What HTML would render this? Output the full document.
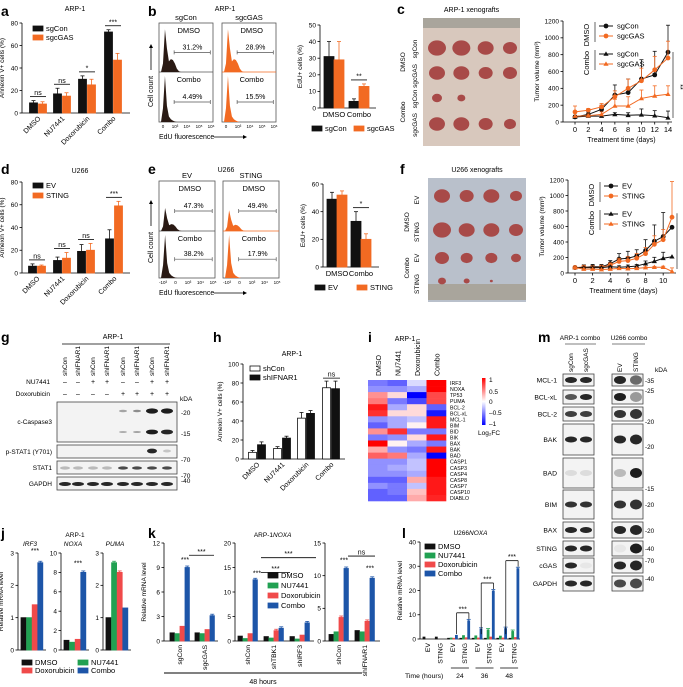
<!DOCTYPE html>
<html><head><meta charset="utf-8">
<style>
html,body{margin:0;padding:0;background:#fff;}
svg{display:block;font-family:"Liberation Sans",Arial,sans-serif;}
</style></head>
<body>
<svg id="fig" width="683" height="687" viewBox="0 0 683 687" xmlns="http://www.w3.org/2000/svg">
<g font-weight="bold" font-size="14" fill="#000">
<text x="1" y="16">a</text>
<text x="148" y="16">b</text>
<text x="397" y="14">c</text>
<text x="1" y="174">d</text>
<text x="148" y="174">e</text>
<text x="400" y="174">f</text>
<text x="1" y="342">g</text>
<text x="213" y="342">h</text>
<text x="368" y="342">i</text>
<text x="538" y="342">m</text>
<text x="1" y="538">j</text>
<text x="148" y="538">k</text>
<text x="402" y="538">l</text>
</g>
</svg>
<script>
// ---------------- DATA ----------------
const aCats=['DMSO','NU7441','Doxorubicin','Combo'];
const aSgCon=[9,17,30,72]; const aSgConErr=[2,5,3,2];
const aSgGAS=[8,15,25,47]; const aSgGASErr=[2,3,5,6];
const aTicks=[0,20,40,60,80];
const aSig=['ns','ns','*','***'];

const dEV=[6,11,19,30]; const dEVErr=[2,3,6,8];
const dSTING=[6,13,20,59]; const dSTINGErr=[1,5,6,4];
const dSig=['ns','ns','ns','***'];

const bCats=['DMSO','Combo'];
const bSgCon=[31,4]; const bSgConErr=[9,1.5];
const bSgGAS=[29,13]; const bSgGASErr=[11,1.5];
const bTicks=[0,10,20,30,40,50];
const bPct=['31.2%','28.9%','4.49%','15.5%'];

const eEV=[49,33]; const eEVErr=[5,7];
const eSTING=[52,20]; const eSTINGErr=[3,4];
const eTicks=[0,20,40,60];
const ePct=['47.3%','49.4%','38.2%','17.9%'];

const cDays=[0,2,4,6,8,10,12,14];
const cDmsoCon=[60,90,150,320,350,510,560,830];
const cDmsoGAS=[120,140,180,300,400,490,620,760];
const cComboCon=[60,70,70,90,80,85,75,50];
const cComboGAS=[70,75,90,190,190,280,310,330];
const cErrDC=[20,30,50,120,160,230,280,320];
const cErrDG=[70,20,40,70,110,150,160,200];
const cErrCC=[10,10,10,20,30,70,60,80];
const cErrCG=[50,20,30,80,110,100,120,100];
const cYTicks=[0,200,400,600,800,1000,1200];

const fDays=[0,1,2,3,4,5,6,7,8,9,10,11];
const fDmsoEV=[70,75,80,80,120,180,190,220,290,410,470,590];
const fDmsoST=[70,75,70,75,100,150,160,190,250,370,430,720];
const fComboEV=[70,70,70,70,80,75,80,90,120,150,190,210];
const fComboST=[70,50,50,45,50,60,55,60,70,75,75,20];
const fErr1=[20,30,30,30,40,70,90,80,140,210,310,0];
const fErr2=[20,20,20,20,30,40,50,60,80,110,130,460];
const fYTicks=[0,200,400,600,800,1000,1200];
const fXTicks=[0,2,4,6,8,10];

const hShCon=[7,11,43,75]; const hShConErr=[2,2,6,7];
const hShIF=[15,22,48,74]; const hShIFErr=[3,2,3,8];
const hTicks=[0,20,40,60,80,100];

const iRows=['IRF3','NOXA','TP53','PUMA','BCL-2','BCL-xL','MCL-1','BIM','BID','BIK','BAX','BAK','BAD','CASP1','CASP3','CASP4','CASP8','CASP7','CASP10','DIABLO'];
const iCols=['DMSO','NU7441','Doxorubicin','Combo'];
const iDMSO=[-0.5,-0.4,0.4,0.5,0.9,0.8,-0.4,-0.6,0.4,-0.5,1,0.3,0.6,-0.4,-0.4,-0.4,-0.6,-0.4,-0.6,-0.6];
const iNU=[-0.6,-0.4,0.1,-0.5,-0.3,0.1,-0.3,-0.3,0.8,-0.4,0,-0.4,0.5,-0.4,-0.3,-0.4,-0.6,-0.5,-0.5,-0.6];
const iDox=[-0.1,-0.3,-1,-0.7,0.1,0.1,-0.2,0,-0.5,0.1,-0.3,-0.5,-0.3,-0.2,-0.2,-0.3,0.3,-0.2,0.2,0.3];
const iCombo=[1,1,0.7,0.7,-0.6,-0.9,0.9,0.9,-0.5,0.9,-0.5,0.9,-1,1,1,1,0.9,0.9,0.9,0.85];

const jGenes=['IRF3','NOXA','PUMA'];
const jMax=[3,10,3];
const jDMSO=[1,1,1]; const jNU=[1,0.8,2.7]; const jDox=[1.4,1.1,2.4]; const jCombo=[2.7,8,1.3];

const kGroups1=['sgCon','sgcGAS']; const k1DMSO=[1,1]; const k1NU=[0.9,0.9]; const k1Dox=[1.8,1.4]; const k1Combo=[9,3.1];
const kGroups2=['shCon','shTBK1','shIRF3']; const k2DMSO=[1,0.9,0.9]; const k2NU=[0.5,0.6,0.4]; const k2Dox=[1.5,2.1,1.2]; const k2Combo=[12.5,2.6,3.7];
const kGroups3=['shCon','shIFNAR1']; const k3DMSO=[1,1.6]; const k3NU=[1.4,1.4]; const k3Dox=[3.6,3]; const k3Combo=[11.1,9.6];

const lGroups=['EV','STING','EV','STING','EV','STING','EV','STING'];
const lDMSO=[0.8,0.8,0.3,0.3,0.3,0.3,0.3,0.3];
const lNU=[0,0,0.4,1.4,1.3,3.7,1.2,3.1];
const lDox=[0,0,0.3,0.5,0.4,0.8,0.4,0.6];
const lCombo=[0,0,1.5,7.5,4,19.8,4.3,29];
const lTicks=[0,10,20,30,40];

// ---------------- HELPERS ----------------
const NS='http://www.w3.org/2000/svg';
const svg=document.getElementById('fig');
const ORANGE='#f26a22', BLACK='#111', GREEN='#21a152', RED='#f04a4a', BLUE='#1d55a8';
function mk(tag,at,par){const e=document.createElementNS(NS,tag);for(const k in at)e.setAttribute(k,at[k]);(par||svg).appendChild(e);return e;}
function txt(x,y,s,sz,anchor,par,rot,color){const t=mk('text',{x:x,y:y,'font-size':sz||7,'text-anchor':anchor||'start',fill:color||'#000'},par);if(rot)t.setAttribute('transform','rotate('+rot+' '+x+' '+y+')');t.textContent=s;return t;}
function line(x1,y1,x2,y2,par,w,c){return mk('line',{x1:x1,y1:y1,x2:x2,y2:y2,stroke:c||'#000','stroke-width':w||0.8},par);}
function lin(v,d0,d1,p0,p1){return p0+(v-d0)/(d1-d0)*(p1-p0);}

function yAxis(g,ax,y0,yT,max,ticks,title,labelFmt){
  const a=line(ax,y0,ax,yT,g);
  
  
  ticks.forEach(t=>{const y=lin(t,0,max,y0,yT);line(ax-2.5,y,ax,y,g);const tl=txt(ax-4,y+2.3,labelFmt?labelFmt(t):String(t),6.5,'end',g);
    
    });
  if(title){const tt=txt(ax-18-(String(max).length-2)*3,(y0+yT)/2,title,6.5,'middle',g,-90);
    
    }
}
function bar(g,x,w,y0,y,fill,stroke,err,yScale){
  if(err){const ye=y-err*yScale;line(x+w/2,y,x+w/2,ye,g,0.8,stroke);line(x+w/2-2,ye,x+w/2+2,ye,g,0.8,stroke);}
  const r=mk('rect',{x:x,y:Math.min(y,y0),width:w,height:Math.abs(y0-y),fill:fill,stroke:stroke,'stroke-width':0.8},g);
  
  
  return r;
}
function sig(g,x1,x2,y,s){line(x1,y,x2,y,g);const t=txt((x1+x2)/2,y-1.5,s,7,'middle',g);
  
  }

function annexin(name,ax,y0,yT,max,ticks,cats,centers,s1,e1,s2,e2,c1,c2,sigs,axEnd,rot,title){
  const g=mk('g',{});  
  yAxis(g,ax,y0,yT,max,ticks,title);
  line(ax,y0,axEnd,y0,g);
  const sc=(y0-yT)/max, w=8;
  cats.forEach((c,i)=>{
    const cx=centers[i];
    bar(g,cx-w-0.5,w,y0,lin(s1[i],0,max,y0,yT),c1[0],c1[1],e1[i],sc);
    bar(g,cx+0.5,w,y0,lin(s2[i],0,max,y0,yT),c2[0],c2[1],e2[i],sc);
    if(sigs){const top=Math.max(s1[i]+e1[i],s2[i]+e2[i]);sig(g,cx-w,cx+w,lin(top,0,max,y0,yT)-4,sigs[i]);}
    const tl=txt(cx+3,y0+6,c,7,'end',g,rot||-45);
    
    
  });
  return g;
}
function legendEntry(g,x,y,label,fill,stroke){const r=mk('rect',{x:x,y:y-4,width:10,height:5,fill:fill,stroke:stroke||fill,'stroke-width':0.8},g);
  
  
  const t=txt(x+13,y+1,label,7.5,'start',g);
  
  }

// ---------------- PANEL A ----------------
txt(75,11,'ARP-1',7,'middle');
const gA=annexin('annexin-chart-a',22,113,23,80,aTicks,aCats,[38,62,87,113],aSgCon,aSgConErr,aSgGAS,aSgGASErr,[BLACK,BLACK],[ORANGE,ORANGE],aSig,130,-45,'Annexin V+ cells (%)');
legendEntry(gA,33,30,'sgCon',BLACK); legendEntry(gA,33,39,'sgcGAS',ORANGE);

// ---------------- PANEL D ----------------
txt(80,173,'U266',7,'middle');
const gD=annexin('annexin-chart-d',22,273,182,80,aTicks,aCats,[37,62,86,114],dEV,dEVErr,dSTING,dSTINGErr,[BLACK,BLACK],[ORANGE,ORANGE],dSig,130,-45,'Annexin V+ cells (%)');
legendEntry(gD,33,187,'EV',BLACK); legendEntry(gD,33,197,'STING',ORANGE);

// ---------------- FLOW HISTOGRAMS ----------------
const histMain=[0,0.2,1,0.55,0.25,0.3,0.28,0.2,0.08,0.02,0,0,0,0,0];
const histCombo=[0,0.3,1,0.35,0.12,0.06,0.03,0.01,0,0,0,0,0,0,0];
function flow(name,x,y,w,h,div,color,pcts,titles,cond,scaleMain,scaleCombo,xlab){
  const g=mk('g',{});  
  for(let k=0;k<2;k++){
    const bx=x[k];
    const box=mk('rect',{x:bx,y:y,width:w,height:h,fill:'none',stroke:'#555','stroke-width':0.8},g);
    
    
    line(bx,div,bx+w,div,g,0.8,k==1?ORANGE:'#555');
    [[y,div,histMain,scaleMain[k]],[div,y+h,histCombo,scaleCombo[k]]].forEach((p,j)=>{
      const top=p[0],bot=p[1],hist=p[2],sc=p[3];
      let d='M'+(bx+2)+','+bot;
      hist.forEach((v,i)=>{d+=' L'+(bx+2+i*(w*0.55)/hist.length)+','+(bot-v*(bot-top-4)*sc);});
      d+=' L'+(bx+w*0.6)+','+bot+'Z';
      const pth=mk('path',{d:d,fill:k==0?'#2a1a14':ORANGE},g);
      
      
      const gy=top+(bot-top)*0.6;
      line(bx+w*0.28,gy,bx+w*0.95,gy,g,0.7,'#555');line(bx+w*0.28,gy-2,bx+w*0.28,gy+2,g,0.7,'#555');line(bx+w*0.95,gy-2,bx+w*0.95,gy+2,g,0.7,'#555');
      const pt=txt(bx+w*0.62,gy-3,pcts[j*2+k],7,'middle',g);
      
      
      txt(bx+w*0.55,top+10,cond[j],7.5,'middle',g);
    });
    txt(bx+w/2,y-3,titles[k],7.5,'middle',g);
    xlab.forEach((s,i)=>txt(bx+4+i*(w-6)/(xlab.length-1),y+h+6,s,4.5,'middle',g));
  }
  txt(x[0],y+h+17,'EdU fluorescence',7,'start',g);
  line(x[0]+55,y+h+15,x[0]+85,y+h+15,g,0.8);
  mk('path',{d:'M'+(x[0]+88)+','+(y+h+15)+' l-4,-2 v4z'},g);
  txt(x[0]-6,y+h-15,'Cell count',7,'start',g,-90);
  line(x[0]-8,y+h-52,x[0]-8,y+h-75,g,0.8);
  mk('path',{d:'M'+(x[0]-8)+','+(y+h-78)+' l-2,4 h4z'},g);
}
txt(225,11,'ARP-1',7,'middle');
flow('flow-histograms-b',[159,222],23,54,99,72,1,bPct,['sgCon','sgcGAS'],['DMSO','Combo'],[0.95,0.95],[1,1],['0','10³','10⁴','10⁵','10⁶']);
txt(226,172,'U266',7,'middle');
flow('flow-histograms-e',[159,223],181,56,97,231,1,ePct,['EV','STING'],['DMSO','Combo'],[0.5,0.45],[1,1],['-10³','0','10³','10⁴','10⁵']);

// ---------------- EdU bar charts ----------------
function edu(name,ax,y0,yT,max,ticks,centers,s1,e1,s2,e2,c2,sigTxt,leg){
  const g=mk('g',{});  
  yAxis(g,ax,y0,yT,max,ticks,'EdU+ cells (%)');
  line(ax,y0,ax+56,y0,g);
  const sc=(y0-yT)/max,w=10;
  bCats.forEach((c,i)=>{const cx=centers[i];
    bar(g,cx-w,w,y0,lin(s1[i],0,max,y0,yT),BLACK,BLACK,e1[i],sc);
    bar(g,cx,w,y0,lin(s2[i],0,max,y0,yT),c2,c2,e2[i],sc);
    const tl=txt(cx,y0+9,c,7.5,'middle',g);
    
    });
  const top=Math.max(s1[1]+e1[1],s2[1]+e2[1]);
  sig(g,centers[1]-8,centers[1]+8,lin(top,0,max,y0,yT)-4,sigTxt);
  legendEntry(g,ax-8,y0+22,leg[0],BLACK); legendEntry(g,ax+34,y0+22,leg[1],ORANGE);
}
edu('edu-chart-b',320,108,25,50,bTicks,[334,359],bSgCon,bSgConErr,bSgGAS,bSgGASErr,ORANGE,'**',['sgCon','sgcGAS']);
edu('edu-chart-e',323,267,184,60,eTicks,[337,361],eEV,eEVErr,eSTING,eSTINGErr,ORANGE,'*',['EV','STING']);

// ---------------- XENOGRAFT PHOTOS ----------------
function photo(name,x,y,w,h,bg,rulerY,rulerH,rows,sizes,title,labels){
  const g=mk('g',{});  
  txt(x+w/2,y-6,title,7,'middle',g);
  mk('rect',{x:x,y:y,width:w,height:h,fill:bg},g);
  mk('rect',{x:x,y:rulerY,width:w,height:rulerH,fill:'#a9a59c'},g);
  rows.forEach((ry,ri)=>{[0,1,2,3].forEach(ci=>{const s=sizes[ri][ci];if(s>0){const e=mk('ellipse',{cx:x+14+ci*(w-24)/3,cy:ry,rx:s,ry:s*0.85,fill:'#a84a48'},g);
    
    }});});
  labels.forEach(l=>txt(l[0],l[1],l[2],6.5,'middle',g,-90));
  return g;
}
photo('xenograft-photo-c',423,18,97,128,'#d8c8bd',18,10,[48,73,98,124],[[9,9,8,7],[8,8,7,7],[5,4,0,0],[8,8,7,6]],'ARP-1 xenografts',[[405,62,'DMSO'],[405,112,'Combo'],[417,49,'sgCon'],[417,76,'sgcGAS'],[417,99,'sgCon'],[417,125,'sgcGAS']]);
photo('xenograft-photo-f',428,178,98,124,'#b9c0cb',284,16,[196,230,258,281],[[8,7,8,6],[9,8,8,7],[7,6,6,5],[4,3,1.5,0]],'U266 xenografts',[[409,222,'DMSO'],[409,268,'Combo'],[419,200,'EV'],[419,232,'STING'],[419,258,'EV'],[419,284,'STING']]);

// ---------------- LINE CHARTS ----------------
function growth(name,ax,x0,x1,xmax,y0,yT,days,series,errs,xTicks,legY,legLabels,sigTxt){
  const g=mk('g',{});  
  yAxis(g,ax,y0,yT,1200,cYTicks,'Tumor volume (mm³)');
  line(ax,y0,x1+4,y0,g);
  xTicks.forEach(d=>{const x=lin(d,0,xmax,x0,x1);line(x,y0,x,y0+2.5,g);const t=txt(x,y0+10,String(d),7.5,'middle',g);
    
    });
  const tt=txt((x0+x1)/2,y0+20,'Treatment time (days)',7,'middle',g);
  
  
  const cols=[BLACK,ORANGE,BLACK,ORANGE];
  series.forEach((s,si)=>{
    let d='';
    s.forEach((v,i)=>{const X=lin(days[i],0,xmax,x0,x1),Y=lin(v,0,1200,y0,yT);d+=(i?' L':'M')+X+','+Y;
      const e=errs[si]?errs[si][i]:0; if(e){line(X,Y,X,Y-e*(y0-yT)/1200,g,0.8,cols[si]);line(X-2,Y-e*(y0-yT)/1200,X+2,Y-e*(y0-yT)/1200,g,0.8,cols[si]);}});
    const p=mk('path',{d:d,fill:'none',stroke:cols[si],'stroke-width':1},g);
    
    
    s.forEach((v,i)=>{const X=lin(days[i],0,xmax,x0,x1),Y=lin(v,0,1200,y0,yT);let m;
      if(si<2)m=mk('circle',{cx:X,cy:Y,r:2.4,fill:cols[si]},g);
      else m=mk('path',{d:'M'+X+','+(Y-2.6)+' l2.6,4.4 h-5.2z',fill:cols[si]},g);
      
      });
  });
  const lx=ax+34;
  [[0,'DMSO'],[1,'Combo']].forEach(([k,lab])=>{
    const yy=legY+k*28;
    txt(lx-8,yy+9,lab,7.5,'middle',g,-90);
    line(lx-2,yy-4,lx-2,yy+16,g,0.6);
    for(let q=0;q<2;q++){const si=k*2+q,Y=yy+q*10;line(lx+2,Y,lx+16,Y,g,1,cols[si]);
      let m; if(si<2)m=mk('circle',{cx:lx+9,cy:Y,r:2.4,fill:cols[si]},g);else m=mk('path',{d:'M'+(lx+9)+','+(Y-2.6)+' l2.6,4.4 h-5.2z',fill:cols[si]},g);
      
      
      const t=txt(lx+20,Y+2.5,legLabels[si],7.5,'start',g);
      
      }
  });
  const yA=lin(series[1][series[1].length-1],0,1200,y0,yT)+(sigTxt=='**'?-6:-4);
  line(x1+5,yA,x1+5,y0-4,g,0.6); txt(x1+10,(yA+y0)/2,sigTxt,7,'middle',g,90);
}
growth('tumor-growth-chart-c',563,575,668,14,122,21,cDays,[cDmsoCon,cDmsoGAS,cComboCon,cComboGAS],[cErrDC,cErrDG,cErrCC,cErrCG],cDays,26,['sgCon','sgcGAS','sgCon','sgcGAS'],'**');
growth('tumor-growth-chart-f',568,575,672,11,273,180,fDays,[fDmsoEV,fDmsoST,fComboEV,fComboST],[fErr1,fErr2,fErr1.map(v=>v*0.25),fErr2.map(v=>v*0.1)],fXTicks,186,['EV','STING','EV','STING'],'*');

// ---------------- PANEL G (blots) ----------------
const gLanes=['shCon','shIFNAR1','shCon','shIFNAR1','shCon','shIFNAR1','shCon','shIFNAR1'];
const gNU=['–','–','+','+','–','–','+','+'];
const gDox=['–','–','–','–','+','+','+','+'];
function blot(g,x,y,w,h,bands,name){
  const r=mk('rect',{x:x,y:y,width:w,height:h,fill:'#f3f3f3',stroke:'#444','stroke-width':0.8},g);
  
  
  bands.forEach(b=>{const e=mk('ellipse',{cx:b[0],cy:b[1],rx:b[2],ry:b[3],fill:'#111','fill-opacity':b[4]},g);
    
    });
}
{
  const g=mk('g',{});  
  const lx=[65,78,93,107,123,137,152,167];
  txt(113,339,'ARP-1',7,'middle',g); line(62,344,170,344,g,0.7);
  gLanes.forEach((l,i)=>{txt(lx[i]+2,376,l,6.5,'start',g,-90);txt(lx[i],384,gNU[i],7,'middle',g);txt(lx[i],396,gDox[i],7,'middle',g);});
  txt(50,384,'NU7441',6.5,'end',g); txt(50,396,'Doxorubicin',6.5,'end',g); txt(180,401,'kDA',6.5,'start',g);
  blot(g,57,402,120,40,[[123,411,4,1.2,0.35],[137,411,4,1.2,0.45],[152,411,6,2.6,0.95],[167,411,6,2.6,0.95],[123,432,4,1,0.3],[137,432,4,1,0.35],[152,432,6,2.4,0.95],[167,432,6,2.4,0.9]],'c-caspase3-blot');
  blot(g,57,445,120,13,[[152,451,5,2.4,0.9],[167,451,4,1.5,0.2]],'p-stat1-blot');
  blot(g,57,461,120,13,lx.map((x,i)=>[x,468,5,1.6,i<4?0.25:0.75]),'stat1-blot');
  blot(g,57,477,120,13,lx.map(x=>[x,484,6,2,0.9]),'gapdh-blot');
  txt(52,424,'c-Caspase3',6.5,'end',g); txt(52,454,'p-STAT1 (Y701)',6.5,'end',g); txt(52,470,'STAT1',6.5,'end',g); txt(52,486,'GAPDH',6.5,'end',g);
  [['-20',413],['-15',434],['-70',460],['-70',476],['-40',481]].forEach(m=>txt(181,m[1]+2,m[0],6.5,'start',g));
}

// ---------------- PANEL H ----------------
txt(292,356,'ARP-1',7,'middle');
const gH=annexin('annexin-chart-h',243,459,364,100,hTicks,aCats,[257,282,306,331],hShCon,hShConErr,hShIF,hShIFErr,['#fff',BLACK],[BLACK,BLACK],null,345,-45,'Annexin V+ cells (%)');
legendEntry(gH,250,370,'shCon','#fff',BLACK); legendEntry(gH,250,379,'shIFNAR1',BLACK);
sig(gH,323,340,lin(82,0,100,459,364)-3,'ns');

// ---------------- PANEL I heatmap ----------------
{
  const g=mk('g',{});  
  txt(405,341,'ARP-1',7,'middle',g);
  const hx=368,hy=380,cw=19.5,rh=(501-380)/iRows.length;
  const cols=[iDMSO,iNU,iDox,iCombo];
  function col(v){v=Math.max(-1,Math.min(1,v));let r,gg,b;if(v>=0){r=255;gg=Math.round(255*(1-v)*0.95);b=gg;}else{b=255;r=Math.round(255*(1+v)*0.95);gg=r;}return 'rgb('+r+','+gg+','+b+')';}
  cols.forEach((arr,ci)=>{
    const t=txt(hx+ci*cw+cw/2+3,hy-4,iCols[ci],7,'start',g,-90);
    
    
    arr.forEach((v,ri)=>{const r=mk('rect',{x:hx+ci*cw,y:hy+ri*rh,width:cw+0.3,height:rh+0.3,fill:col(v)},g);
      
      });
  });
  iRows.forEach((n,ri)=>{const t=txt(hx+4*cw+4,hy+ri*rh+rh-1,n,5.2,'start',g);
    
    });
  const defs=mk('defs',{},g);const lg=mk('linearGradient',{id:'cb',x1:0,y1:0,x2:0,y2:1},defs);
  mk('stop',{offset:'0','stop-color':'#ff0000'},lg);mk('stop',{offset:'0.5','stop-color':'#ffffff'},lg);mk('stop',{offset:'1','stop-color':'#0000ff'},lg);
  const cb=mk('rect',{x:482,y:378,width:3.5,height:47,fill:'url(#cb)'},g);
  
  
  [['1',380],['0.5',392],['0',402],['–0.5',413],['–1',424]].forEach(m=>txt(489,m[1]+2,m[0],6.5,'start',g));
  txt(478,435,'Log₂FC',6.5,'start',g);
}

// ---------------- PANEL M blots ----------------
{
  const g=mk('g',{});  
  txt(580,340,'ARP-1 combo',6.5,'middle',g); txt(629,340,'U266 combo',6.5,'middle',g);
  line(565,344,596,344,g,0.6); line(612,344,645,344,g,0.6);
  [['sgCon',571],['sgcGAS',586],['EV',620],['STING',636]].forEach(l=>txt(l[1]+2,372,l[0],6.5,'start',g,-90));
  txt(655,372,'kDA',6.5,'start',g);
  const rows=[['MCL-1',374,386,[0.9,0.9],[0.9,0.6]],['BCL-xL',390,404,[0.7,0.9],[0.95,0.4]],['BCL-2',407,421,[0.8,0.8],[0.85,0.85]],['BAK',424,455,[0.9,0.9],[0.9,0.9]],['BAD',458,488,[0.1,0.1],[0.25,0.95]],['BIM',490,519,[0.85,0.85],[0.85,0.85]],['BAX',522,538,[0.9,0.9],[0.9,0.9]],['STING',541,556,[0.9,0.9],[0.05,0.95]],['cGAS',558,573,[0.9,0.05],[0.9,0.9]],['GAPDH',576,591,[0.9,0.9],[0.75,0.75]]];
  rows.forEach(r=>{
    const ys=(r[1]+r[2])/2,hh=r[2]-r[1];
    blot(g,563,r[1],31,hh,[[571,ys,6,Math.min(hh/3,3),r[3][0]],[586,ys,6,Math.min(hh/3,3),r[3][1]]],'blot-'+r[0].toLowerCase());
    blot(g,612,r[1],31,hh,[[620,ys,6,Math.min(hh/3,4),r[4][0]],[636,ys,6,Math.min(hh/2.5,5),r[4][1]]],'blot-u266-'+r[0].toLowerCase());
    txt(557,ys+2.5,r[0],6.8,'end',g);
  });
  [['-35',381],['-25',391],['-20',422],['-20',447],['-15',489],['-20',505],['-20',531],['-40',549],['-70',561],['-40',579]].forEach(m=>txt(645,m[1]+2,m[0],6.3,'start',g));
}

// ---------------- QPCR bars (j,k,l) ----------------
const QC=[BLACK,GREEN,RED,BLUE];
function qpcr(name,ax,y0,yT,max,ticks,groups,series,x0,gw,bw,title,rotLabels,axEnd){
  const g=mk('g',{});  
  yAxis(g,ax,y0,yT,max,ticks,title);
  line(ax,y0,axEnd,y0,g);
  groups.forEach((gr,gi)=>{
    series.forEach((s,si)=>{const v=s[gi];if(v<=0)return;const y=lin(v,0,max,y0,yT);
      bar(g,x0+gi*gw+si*bw,bw-0.6,y0,y,QC[si],QC[si],v>2?max*0.015:0,(y0-yT)/max);});
    if(rotLabels){const t=txt(x0+gi*gw+2*bw+2,y0+4,gr,6.8,'end',g);
      t.setAttribute('transform','rotate(-90 '+(x0+gi*gw+2*bw+2)+' '+(y0+4)+')');
      
      }
  });
  return g;
}
// j
txt(75,537,'ARP-1',6.5,'middle');
[0,1,2].forEach(i=>{
  const ax=[18,61,103][i];
  const gj=qpcr('qpcr-chart-j-'+jGenes[i].toLowerCase(),ax,650,553,jMax[i],jMax[i]==3?[0,1,2,3]:[0,2,4,6,8,10],[jGenes[i]],[[jDMSO[i]],[jNU[i]],[jDox[i]],[jCombo[i]]],ax+3,0,5.6,i==0?'Relative mRNA level':null,0,ax+28);
  const t=txt(ax+12,546,jGenes[i],6.5,'middle',gj); t.setAttribute('font-style','italic');
});
[[35,lin(2.9,0,3,650,553)],[78,lin(8.4,0,10,650,553)]].forEach(p=>txt(p[0],p[1]-3,'***',7,'middle'));
{const g=mk('g',{});
 legendEntry(g,22,664,'DMSO',BLACK);legendEntry(g,22,672,'Doxorubicin',RED);legendEntry(g,78,664,'NU7441',GREEN);legendEntry(g,78,672,'Combo',BLUE);}

// k
txt(273,537,'ARP-1 ',6.5,'end'); {const t=txt(273,537,'NOXA',6.5,'start');t.setAttribute('font-style','italic');}
qpcr('qpcr-chart-k1',164,641,543,12,[0,3,6,9,12],kGroups1,[k1DMSO,k1NU,k1Dox,k1Combo],170,25,5,'Relative mRNA level',90,218);
qpcr('qpcr-chart-k2',235,641,543,20,[0,5,10,15,20],kGroups2,[k2DMSO,k2NU,k2Dox,k2Combo],238,26,5,null,90,314);
qpcr('qpcr-chart-k3',325,641,543,15,[0,5,10,15],kGroups3,[k3DMSO,k3NU,k3Dox,k3Combo],329,26,5,null,90,380);
txt(185,lin(9.4,0,12,641,543)-2,'***',7,'middle'); sig(null,189,214,lin(10.5,0,12,641,543),'***');
txt(257,lin(13,0,20,641,543)-2,'***',7,'middle'); sig(null,261,290,lin(14,0,20,641,543),'***'); sig(null,261,316,lin(17,0,20,641,543),'***');
txt(344,lin(11.7,0,15,641,543)-2,'***',7,'middle'); txt(370,lin(10.5,0,15,641,543)-2,'***',7,'middle'); sig(null,348,375,lin(13,0,15,641,543),'ns');
{const g=mk('g',{});
 legendEntry(g,268,577,'DMSO',BLACK);legendEntry(g,268,587,'NU7441',GREEN);legendEntry(g,268,597,'Doxorubicin',RED);legendEntry(g,268,607,'Combo',BLUE);}
line(164,673,362,673,null,1); txt(263,684,'48 hours',7,'middle');

// l
txt(469,535,'U266 ',6.5,'end'); {const t=txt(469,535,'NOXA',6.5,'start');t.setAttribute('font-style','italic');}
qpcr('qpcr-chart-l',420,639,542,40,lTicks,lGroups,[lDMSO,lNU,lDox,lCombo],423,12.3,2.6,'Relative mRNA level',90,520);
{const g=mk('g',{});
 legendEntry(g,425,548,'DMSO',BLACK);legendEntry(g,425,557,'NU7441',GREEN);legendEntry(g,425,566,'Doxorubicin',RED);legendEntry(g,425,575,'Combo',BLUE);}
[[2,7.5],[4,19.8],[6,29]].forEach(p=>{const xa=423+p[0]*12.3+9,xb=423+(p[0]+1)*12.3+9,yt=lin(p[1],0,40,639,542)-8;
  line(xa,lin(2,0,40,639,542),xa,yt,null,0.7);line(xb,lin(p[1],0,40,639,542)-2,xb,yt,null,0.7);sig(null,xa,xb,yt,'***');});
txt(405,678,'Time (hours)',6.8,'start');
[['24',2],['36',4],['48',6]].forEach(p=>{const cx=423+p[1]*12.3+12.3;line(cx-9,668,cx+9,668,null,0.7);txt(cx,678,p[0],6.8,'middle');});
</script>
</body></html>
